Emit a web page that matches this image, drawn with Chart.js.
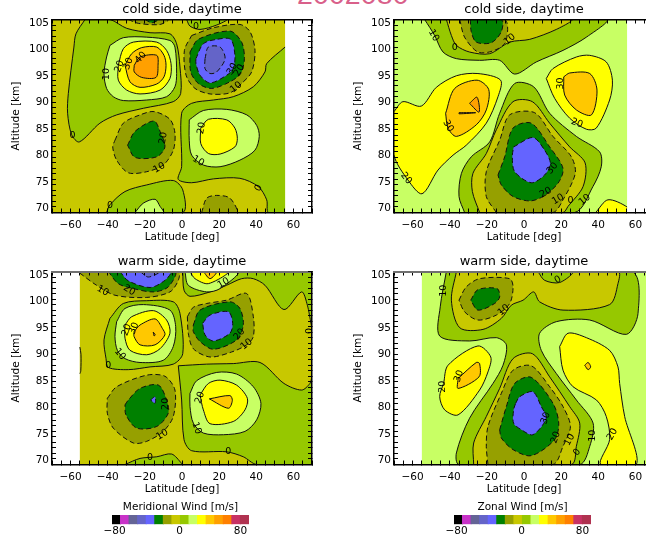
<!DOCTYPE html>
<html><head><meta charset="utf-8">
<script src="https://cdn.jsdelivr.net/npm/chart.js@4"></script>
<style>
html,body{margin:0;padding:0;background:#fff;overflow:hidden;width:646px;height:543px}
canvas{position:absolute;display:block}
#stamp{position:absolute;left:297px;top:-22px;font:28.5px/32px "Liberation Sans";color:#d9608a;white-space:nowrap;letter-spacing:0.1px}
</style></head><body>
<div id="stamp">2002080</div>
<canvas id="p1" width="364" height="250" style="left:0;top:0"></canvas>
<canvas id="p2" width="364" height="250" style="left:342px;top:0"></canvas>
<canvas id="p3" width="364" height="250" style="left:0;top:252px"></canvas>
<canvas id="p4" width="364" height="250" style="left:342px;top:252px"></canvas>
<canvas id="b1" width="260" height="46" style="left:50px;top:497px"></canvas>
<canvas id="b2" width="260" height="46" style="left:392px;top:497px"></canvas>
<script>
// 16 colour classes, -80..80 m/s, 10 m/s each
const classLowerBounds=[-80,-70,-60,-50,-40,-30,-20,-10,0,10,20,30,40,50,60,70];
const classColours=['#000000','#c832c8','#646496','#6464c8','#6464ff','#008000','#96a000','#c8c800','#96c800','#c8ff64','#ffff00','#ffc800','#ffa000','#ff8000','#c83264','#b03250'];
const colourbarTickPositions=[-77,-1,70];
const colourbarTickLabels=['\u221280','0','80'];

// Panel 1: cold side, meridional
const coldMeridLevels=[-10,0,10,20,30,40,-20,-30,-40,-50,0,0,10,20,-20,-30,0,10,-20,-20,-30];
const coldMeridShapes=[
[[-70,70],[55.5,70],[55.5,105],[-70,105]],
[[-52.2,105],[-38.8,105],[-29.8,103.4],[-17.2,102.6],[-6.5,102.4],[-2.9,100.6],[-1.1,96.4],[-0.7,91.6],[-4.7,90.1],[-20.8,88.9],[-35.2,87.7],[-44.2,86.2],[-55.3,82.8],[-59.4,84.1],[-61.6,88],[-61.2,91.6],[-58.2,100],[-57.1,102.4]],
[[-38.8,100.3],[-31.6,101.7],[-19,101.8],[-6.5,101.2],[-3.8,100],[-2.9,95.2],[-3.8,92.8],[-8.3,91],[-19,90.4],[-31.6,90.3],[-37,91],[-40.6,92.5],[-42,95.2],[-40.6,98.2]],
[[-34.3,96.7],[-31.6,99.7],[-26.2,100.9],[-13.6,100.9],[-8.3,99.4],[-5.9,97],[-6.5,94.3],[-11.8,92.2],[-22.6,91.5],[-29.8,92.2],[-34.3,94]],
[[-30.7,96.7],[-27.1,98.8],[-21.7,99.9],[-13.6,100],[-9.7,98.5],[-8.6,96.7],[-9.7,94.6],[-13.6,93.3],[-22.6,92.7],[-28,93.7]],
[[-25.7,96.7],[-22.6,98.2],[-13.6,98.5],[-12.9,96.7],[-14,94.5],[-21.7,94.5],[-25.7,95.5]],
[[5.2,102.1],[16.9,103.5],[31.2,104.1],[36.6,102.8],[39.3,99.4],[37.5,95.5],[32.1,93.4],[25.8,91.7],[15.1,91.5],[7,92.5],[2.2,94.9],[1.3,99.4]],
[[4.3,99.1],[8.8,101.4],[25.8,102.9],[32.1,100.9],[33.6,97.9],[31.6,95.2],[25.8,93.7],[16,92.5],[8.8,93.4],[4.7,95.5]],
[[7.5,97.9],[11.5,100.6],[18.7,101.4],[26.2,101.4],[28.5,98.5],[27.6,96.1],[24.1,94.9],[15.1,93.5],[9.7,94.9],[7.5,97]],
[[12.4,97.9],[14.2,100],[20.5,100],[23.2,97.9],[18.7,95.5],[15.1,95.2],[12.4,96.1]],
[[55.5,100],[45.6,97],[44.7,95.5],[38.4,92.8],[27.6,91],[16.9,90.4],[5.2,89.8],[-0.2,88],[-0.2,78.3],[-2,76],[5.2,75.4],[16.9,76.1],[31.2,76.2],[41.1,74.7],[45.6,72.3],[46.5,70],[55.5,70]],
[[-40.6,70],[-38.8,71.4],[-30.7,73.8],[-19,75],[-4.7,75.8],[0.4,74.1],[0.4,70]],
[[3.9,86.8],[11.5,88.5],[24.1,88.7],[34.9,87.7],[40.2,85.8],[41.6,83.8],[39.3,81.3],[31.2,79.5],[20.5,78.3],[11.5,78.6],[5.2,80.4],[3.9,83.1]],
[[10.1,85.3],[14.2,86.9],[24.1,86.8],[28.5,85.3],[29.8,83.4],[28.5,81.9],[20.5,80.6],[14.2,80.7],[10.1,82.5]],
[[-36.1,83.1],[-31.6,86.2],[-22.6,87.7],[-15.1,88.3],[-6.5,86.9],[-3.8,84.4],[-4.7,81.3],[-10.1,78.6],[-19,77.4],[-28.9,77.2],[-35.2,79.5],[-37.3,81.9]],
[[-29.3,82.2],[-25.3,84.7],[-15.1,86.6],[-11.8,84.7],[-9.2,81.9],[-13.6,80.1],[-25.3,80]],
[[2.5,105],[4.3,103.8],[9.7,103.2],[18.7,104],[24.1,105]],
[[-25.3,70],[-20.8,71.7],[-14.5,72.4],[-11.8,71.1],[-10,70]],
[[10.6,70],[13.3,72.6],[18.7,73.1],[25.8,72.6],[29.4,70]],
[[-28.9,105],[-23.5,104.3],[-11.8,104.1],[-7.4,105]],
[[-19.9,105],[-16.3,104.4],[-12.7,105]]
];
const coldMeridLabels=[[-58.9,84,'0',0],[-40.9,95.1,'10',-90],[-33.7,96.5,'20',-70],[-28.9,97,'30',-70],[-22.2,98.1,'40',-50],[-10,83.5,'20',-80],[-12.2,78.1,'10',-30],[-38.8,71.3,'0',0],[7.5,103.8,'0',0],[27.1,96,'30',-60],[30.9,95.8,'20',-60],[29.1,92.7,'10',-40],[10.6,85.3,'20',-80],[8.8,79.3,'10',30],[41.3,74.4,'0',-60]];

// Panel 2: cold side, zonal
const coldZonalLevels=[10,0,-10,-20,-30,20,30,40,40,20,30,20,0,-10,-20,-30,-40];
const coldZonalShapes=[
[[-70,70],[55.5,70],[55.5,105],[-70,105]],
[[-53.5,105],[-48.1,102.1],[-43.6,99.1],[-36.4,97.9],[-23.9,97.6],[-13.1,97.6],[-5,95.1],[6.6,97.3],[21,99.4],[33.6,101.8],[44.3,105]],
[[-41.8,105],[-39.1,102.1],[-36.4,100.3],[-29.3,99.1],[-18.5,98.8],[-7.7,100.9],[3.1,101.4],[17.4,103.2],[25.5,105]],
[[-34.6,105],[-32,101.8],[-24.8,99.1],[-16.7,99.3],[-9.9,100.9],[-10.4,105]],
[[-28.9,105],[-28.4,102.8],[-25.7,100.9],[-17.6,100.8],[-12.2,102.8],[-12.2,105]],
[[-70,88.3],[-65.2,90.1],[-55.3,89.3],[-47.2,92.7],[-36.4,94.8],[-24.8,95.2],[-12.6,94],[-14,91],[-20.3,86.2],[-31.1,82.2],[-38.2,80.4],[-46.3,77.7],[-54.9,73.4],[-62.5,75.9],[-70,80.4]],
[[-42.2,88],[-37.3,92.5],[-25.3,94],[-19,92.3],[-20.3,88.6],[-25.7,85.9],[-36.4,83.8],[-40.9,85.3]],
[[-29.3,89.8],[-25.3,90.9],[-24.2,88.2]],
[[-35,88.1],[-26,88.1],[-35,87.9]],
[[12,94.3],[15.6,96.1],[28.2,98.2],[35.4,98.5],[44.3,97.3],[47.6,94],[46.1,90.4],[38.9,85.3],[33.6,85.1],[24.6,87.1],[16.5,90.7]],
[[21.4,94.6],[24.6,95.3],[35.4,95.2],[39.3,92.2],[36.3,87.7],[28.2,88.6],[21.9,91.3]],
[[38.6,70],[45.2,72.3],[55.5,71],[55.5,70]],
[[-32,70],[-35,72.9],[-33.7,77.1],[-28.4,80.1],[-18.5,82.8],[-13.1,88],[-5,93.4],[5.2,92.8],[13.8,88],[28.2,83.8],[40.7,81],[41.6,78.3],[37.1,74.7],[27.3,70]],
[[-23.9,70],[-27.8,73.8],[-27.5,77.1],[-20.3,80.7],[-14.9,85],[-5.9,90.1],[4.5,90.1],[13.8,86.2],[24.6,81.9],[32.9,79],[31.8,74.7],[23.7,71.1],[21,70]],
[[-14.9,70],[-20.3,72.9],[-20.3,77.4],[-13.1,83.1],[-7.7,87.7],[5.7,88.1],[15.6,83.8],[25.5,80.1],[27.6,77.1],[21,72.3],[15.6,70]],
[[-14,76.8],[-10.4,80.1],[-5.9,85.3],[3.9,86.2],[13.8,81.9],[21,78],[18.3,75.3],[10.2,72.9],[3.1,72.1],[-5.9,72.9],[-12.2,75]],
[[-5.6,81.9],[4.8,83.6],[11.1,81.3],[14.2,78.9],[11.1,76.8],[3.9,75.4],[-5,77.4],[-6.3,80.1]]
];
const coldZonalLabels=[[-48.6,102.1,'10',60],[-37.3,100,'0',0],[-7.7,101.4,'10',-40],[19.7,93.4,'30',-90],[-40.9,85.7,'30',60],[28.5,86.2,'20',20],[-63.4,76.2,'20',50],[15.3,78,'30',-50],[11.7,73.6,'20',-30],[18.3,72.4,'10',-30],[25,72.1,'0',0],[32.7,72.3,'10',-40]];

// Panel 3: warm side, meridional
const warmMeridLevels=[-10,0,10,20,30,0,0,10,20,30,40,-20,-30,-40,-50,-20,-30,-40,-20,-30,-40,10,20,30,0,-10];
const warmMeridShapes=[
[[-55,70],[70,70],[70,105],[-55,105]],
[[0.4,105],[1.1,101.6],[4.3,100.5],[15.1,101.3],[24,102.5],[32.1,103.7],[38.4,103.7],[44.7,102.5],[54.9,98.1],[64.4,101.3],[67.5,98.9],[70,95],[70,105]],
[[1.6,105],[3.4,102.5],[13.3,101.3],[20.5,101.9],[30.3,105]],
[[4.3,105],[7,103.7],[14.2,102.8],[25,105]],
[[11.5,105],[15.1,103.7],[18.7,105]],
[[-2,87.9],[13.3,88.2],[27.6,88.3],[42,88.5],[54.9,84.7],[64.4,83.5],[68.9,84.7],[70,85.9],[70,70],[40.2,70],[33,71.4],[24,72.3],[5.2,72.5],[1.1,74.5],[-0.2,81.7]],
[[-38.8,96.5],[-31.6,99.2],[-19,99.7],[-4.7,99.5],[-1.1,97.4],[0.4,90.1],[-4.7,88.2],[-17.2,87.7],[-28.9,87.2],[-39.7,87.6],[-40.9,89.2],[-42,92.6]],
[[-35.2,95.9],[-30.7,98.3],[-20.8,99],[-6.5,98],[-3.4,95],[-4.7,91.4],[-10.1,88.9],[-22.6,88.5],[-30.7,89.2],[-34.8,90.7],[-36.1,93.2]],
[[-30.7,95.3],[-27.1,96.8],[-15.4,97.9],[-8.3,96.2],[-6.5,93.8],[-11.8,91],[-19,89.9],[-28,90.7],[-30.7,92.9]],
[[-25.8,94.1],[-22.6,95.3],[-14.5,96.4],[-10.6,94.7],[-9.2,93.5],[-14.5,91.7],[-22.6,91.7],[-25.8,93.2]],
[[-15.5,94],[-14.5,93.6],[-15,93.3]],
[[-55,104.7],[-46,102.5],[-36.1,100.7],[-19,100.3],[-6.5,101.3],[-2,103.4],[-2,105],[-55,105]],
[[-39.7,105],[-34.3,102.8],[-26.2,101.9],[-15.4,101.3],[-7.4,102.2],[-3.8,105]],
[[-33.4,105],[-28.9,103.3],[-17.2,102.1],[-9.2,103.4],[-6.1,105]],
[[-22.6,105],[-18.1,104],[-11.8,105]],
[[2.9,96.8],[6.1,98.5],[13.3,99.2],[24,99.8],[34.8,101],[38.4,96.8],[38.4,93.2],[34.8,91.7],[26.7,90.4],[15.1,89.5],[6.1,91],[3.4,93.8]],
[[6.1,95.3],[9.7,98],[25.8,99.5],[31.2,98.3],[33,95.3],[29.4,92.6],[16.9,90.9],[9.7,92.3],[6.1,94.1]],
[[11.1,95.6],[15.1,97.1],[25,97.7],[27.3,95.6],[25.8,93.8],[16.9,92.4],[12.4,93.5]],
[[-40.2,82],[-35.2,84.1],[-19,86.2],[-9.2,86],[-3.8,83.5],[-4.7,78.7],[-10.1,76],[-19,74.2],[-26.2,73.9],[-37,76.6],[-40.2,79.3]],
[[-30.7,80.8],[-28.9,81.7],[-22.6,83.8],[-12.7,84.4],[-8.3,81.7],[-7.4,79.3],[-13.6,76.9],[-24.4,76.6],[-30.2,79]],
[[-16.9,81.7],[-14.5,82.3],[-14.5,81.1]],
[[4.3,82.9],[7.9,85.2],[18.7,86.7],[29.4,86.4],[38.4,84.1],[42.5,81.1],[40.2,78.1],[33.9,76],[22.3,75.4],[11.5,75.7],[6.1,77.5],[4.3,80.5]],
[[9.7,82.6],[14.2,84.7],[20.5,85.3],[29.4,84.4],[35.2,82],[33.9,79.9],[27.6,77.8],[15.1,77.4],[11.5,79.9]],
[[14.7,81.9],[25.8,82.5],[27.1,81.6],[25,80.2]],
[[-30.7,70],[-22.6,71.1],[-13.6,71.4],[-5.6,71.9],[-0.2,70.2],[-0.2,70]],
[[-55,91.3],[-54.4,90],[-54.5,87],[-55,86.5]]
];
const warmMeridLabels=[[-42.7,101.5,'10',30],[-28.4,101.6,'20',30],[22.3,102.9,'10',-30],[68.9,94.2,'0',-90],[-25.8,94.7,'30',-70],[-29.8,94.4,'20',-70],[-33.4,90,'10',50],[-39.7,87.9,'0',0],[-8.6,81,'20',-90],[-10.6,75.4,'10',-30],[30.9,93.6,'20',-50],[34.8,91.8,'10',-40],[9.7,82.1,'20',-70],[7.9,76.6,'10',70],[-17.2,71.3,'0',0],[24.9,72.3,'0',0]];

// Panel 4: warm side, zonal
const warmZonalLevels=[10,0,-10,0,-20,-30,20,30,20,30,-10,-20,-30,-40];
const warmZonalShapes=[
[[-55,70],[70,70],[70,105],[-55,105]],
[[-41.8,105],[-45.1,98.6],[-45.4,93.3],[-29.3,92.4],[-14.9,93],[-9.5,91.7],[-11.3,88],[-16.7,84.7],[-29.3,78.4],[-36.4,72.1],[-35,70],[30,70],[35.4,73.3],[37.2,77.5],[28.2,81.7],[17.4,86.5],[9.3,90.7],[8.4,93.8],[17.4,95.9],[35.4,96.2],[55.1,93.6],[61.4,97.4],[57.8,105]],
[[-36.4,105],[-39.1,99.8],[-34.6,94.8],[-22.1,94.5],[-12.2,96.5],[-6.8,98.9],[-0.5,99.8],[5.2,101.3],[8.4,99.5],[21,98],[46.1,99],[50.6,102.8],[50.6,105]],
[[7.5,105],[11.1,103.4],[19.2,103],[26.4,105]],
[[-35,99.8],[-31.1,102.2],[-23.9,103.7],[-7.7,103.7],[-5.9,102.2],[-7.7,99.2],[-14.9,97.1],[-24.8,96.2],[-32,97.7]],
[[-28.7,99.8],[-24.8,101.7],[-14.5,101.9],[-13.1,100.4],[-15.8,99.2],[-24.8,98]],
[[-43.3,84.7],[-40.9,88],[-24.8,91.5],[-17.9,89.5],[-19.4,86.8],[-23.9,83.5],[-35.5,79],[-42.7,79.9],[-45.4,82.3]],
[[-35.5,85.6],[-25.7,88.5],[-23.9,88.3],[-24.2,85.9],[-35.5,83.8]],
[[19.2,91.4],[23.7,93.8],[33.6,93],[46.1,90.7],[50.6,87.7],[51.5,84.7],[54.2,78.7],[60.5,70],[41.3,70],[46.1,74.5],[44.3,78.7],[39,81.7],[26.4,84.1],[21,87.1]],
[[32.7,88],[34.5,88.5],[35.9,87.7],[34.5,87.2]],
[[-27.1,70],[-27.1,73.9],[-20.3,78.7],[-13.1,83.8],[-5.9,89.2],[4.5,90.1],[13.8,85.9],[24.6,80.5],[30,77.5],[28.2,73.3],[25.5,70]],
[[-19.4,70],[-20.3,73.3],[-19.4,76.9],[-12.2,82.9],[-5.9,87.1],[3.9,87.9],[13.8,84.1],[21,80.5],[25,76.9],[21,73.3],[15.6,70]],
[[-13.1,76.3],[-9.5,80.5],[-5,84.7],[3.9,85.8],[15.6,81.1],[18.7,77.5],[16.5,74.5],[3.9,71.6],[-5.9,72.7],[-12.2,74.8]],
[[-4.5,81.1],[-2.3,82.3],[4.8,83.2],[9.3,80.5],[12,78.4],[4.8,75.4],[-1.4,76.3],[-5.6,77.5],[-5.6,79.9]]
];
const warmZonalLabels=[[-43.3,101.5,'10',-90],[-10.9,98,'10',-40],[18.3,103.5,'0',-30],[-43.6,84.1,'20',-90],[-35,86,'30',-70],[11.7,78.4,'30',-70],[17.1,74.9,'20',-70],[24.6,74.5,'10',-60],[28.5,72.2,'0',-50],[36.8,75.2,'10',-90],[47.6,75.5,'20',-60]];

const FONT='"DejaVu Sans"';
const fillShapes={id:'fillShapes',beforeDatasetDraw(chart,args){
  const ds=chart.data.datasets[args.index], pts=args.meta.data, a=chart.chartArea, c=chart.ctx;
  c.save();c.beginPath();c.rect(a.left,a.top,a.right-a.left,a.bottom-a.top);c.clip();
  c.beginPath();
  pts.forEach((p,i)=>{
    if(!i){c.moveTo(p.x,p.y);return;}
    const q=pts[i-1];
    if(q.cp2x===undefined||ds.isEdge(ds.data[i-1],ds.data[i]))c.lineTo(p.x,p.y);
    else c.bezierCurveTo(q.cp2x,q.cp2y,p.cp1x,p.cp1y,p.x,p.y);
  });
  c.closePath();c.fillStyle=ds.backgroundColor;c.fill();c.restore();
}};
const contourLabels={id:'contourLabels',afterDatasetsDraw(chart,args,opts){
  const c=chart.ctx,sx=chart.scales.x,sy=chart.scales.y;
  c.save();c.font='9.5px '+FONT;c.fillStyle='#000';c.textAlign='center';c.textBaseline='middle';
  (opts.items||[]).forEach(([la,al,t,r])=>{c.save();c.translate(sx.getPixelForValue(la),sy.getPixelForValue(al));c.rotate(r*Math.PI/180);c.fillText(t,0,0);c.restore();});
  c.restore();
}};
// the reference's altitude labels sit slightly closer together than its ticks
function squeezeLabels(scale){
  if(scale._squeezed)return;scale._squeezed=true;
  const orig=scale._computeLabelItems;
  scale._computeLabelItems=function(area){
    const items=orig.call(this,area),mid=(this.top+this.bottom)/2;
    items.forEach(it=>{const t=it.options&&it.options.translation;if(t)t[1]+=(mid-t[1])*0.039;});
    return items;
  };
}
function axisCommon(extra){return Object.assign({type:'linear',border:{color:'#000',width:1.5,z:1},grid:{drawOnChartArea:false,drawTicks:true,tickLength:-4,tickColor:'#000',tickWidth:1,z:1}},extra);}
function panel(id,title,levels,shapes,labels,topColour,edges){
  const onEdge=(a,b)=>(a.y===b.y&&(a.y===70||a.y===105))||(a.x===b.x&&edges.includes(a.x));
  const datasets=shapes.map((s,i)=>({
    data:s.concat([s[0]]).map(([x,y])=>({x,y})),
    isEdge:onEdge,
    backgroundColor:classColours[classLowerBounds.indexOf(levels[i])],
    borderColor:i?'#101010':'transparent',borderWidth:i?1:0,
    borderDash:levels[i]<=-20?[5,3]:[],
    segment:{borderColor:c=>onEdge(c.p0.parsed,c.p1.parsed)?'transparent':undefined},
    showLine:true,pointRadius:0,fill:false,tension:i?0.3:0,order:-i}));
  const tickFont={family:FONT,size:10.5};
  return new Chart(document.getElementById(id),{type:'scatter',data:{datasets},plugins:[fillShapes,contourLabels],options:{
    responsive:false,animation:false,devicePixelRatio:1,
    layout:{padding:0},
    plugins:{legend:{display:false},tooltip:{enabled:false},contourLabels:{items:labels},
      title:{display:true,text:title,color:'#000',font:{family:FONT,size:13,weight:'normal',lineHeight:1.2},padding:{top:2.2,bottom:1.7}}},
    scales:{
      x:axisCommon({position:'bottom',min:-70,max:70,afterFit:s=>{s.height=37.5},
        ticks:{stepSize:5,autoSkip:false,maxRotation:0,color:'#000',font:tickFont,padding:10,
          callback:v=>(v%20===0&&Math.abs(v)<70)?(v<0?'\u2212'+(-v):String(v)):''},
        title:{display:true,text:'Latitude [deg]',color:'#000',font:tickFont,padding:{top:0,bottom:6.5}}}),
      y:axisCommon({position:'left',min:70,max:105,afterFit:s=>{s.width=52;squeezeLabels(s)},
        ticks:{stepSize:1,autoSkip:false,color:'#000',font:tickFont,padding:7,callback:v=>v%5===0?String(v):''},
        title:{display:true,text:'Altitude [km]',color:'#000',font:{family:FONT,size:10.5},padding:{top:10,bottom:0}}}),
      x2:Object.assign(axisCommon({position:'top',min:-70,max:70,afterFit:s=>{s.height=0},ticks:{stepSize:5,display:false}}),{border:{color:topColour,width:topColour==='#000'?1.5:2,z:1}}),
      y2:axisCommon({position:'right',min:70,max:105,afterFit:s=>{s.width=52},ticks:{stepSize:1,display:false}})
    }}});
}
function colourbar(id,text){
  return new Chart(document.getElementById(id),{type:'bar',data:{datasets:[{
    data:classLowerBounds.map(v=>({x:v+5,y:1})),backgroundColor:classColours,barThickness:9,borderWidth:0}]},
    options:{responsive:false,animation:false,devicePixelRatio:1,
      layout:{padding:{left:62,right:61,top:0,bottom:0}},
      plugins:{legend:{display:false},tooltip:{enabled:false},
        title:{display:true,text,color:'#000',font:{family:FONT,size:10.5,weight:'normal',lineHeight:1.2},padding:{top:4,bottom:1.4}}},
      scales:{
        x:{type:'linear',offset:false,min:-80,max:80,grid:{display:false,drawTicks:false,offset:false},border:{display:false},
          afterFit:s=>{s.height=18.7},
          afterBuildTicks:s=>{s.ticks=colourbarTickPositions.map(value=>({value}))},
          ticks:{autoSkip:false,maxRotation:0,color:'#000',font:{family:FONT,size:10.5},padding:1,
            callback:v=>colourbarTickLabels[colourbarTickPositions.indexOf(v)]}},
        y:{min:0,max:1,display:false}
      }}});
}
panel('p1','cold side, daytime',coldMeridLevels,coldMeridShapes,coldMeridLabels,'#000',[55.5,-70]);
panel('p2','cold side, daytime',coldZonalLevels,coldZonalShapes,coldZonalLabels,'#000',[55.5,-70]);
panel('p3','warm side, daytime',warmMeridLevels,warmMeridShapes,warmMeridLabels,'#707070',[-55,70]);
panel('p4','warm side, daytime',warmZonalLevels,warmZonalShapes,warmZonalLabels,'#707070',[-55,70]);
colourbar('b1','Meridional Wind [m/s]');
colourbar('b2','Zonal Wind [m/s]');
</script>
</body></html>
